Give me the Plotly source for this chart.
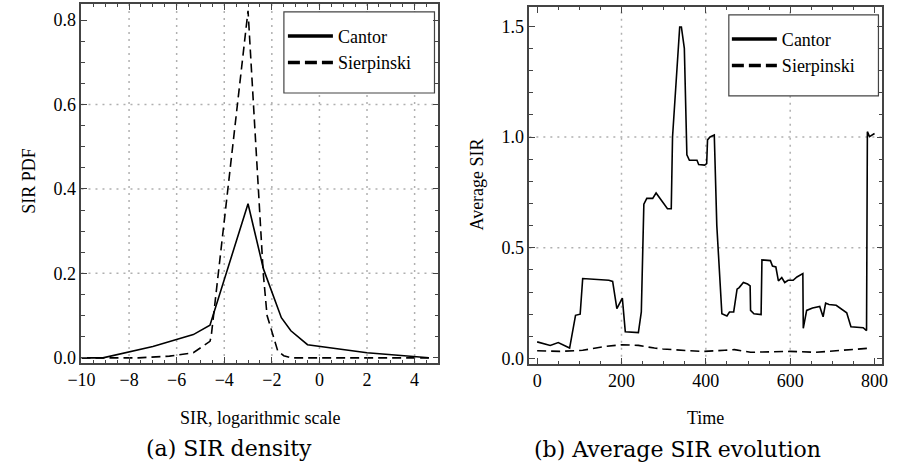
import plotly.graph_objects as go

# ---------------- data ----------------
# (a) SIR density
cantor_pdf_x = [-10, -9.1, -7.0, -5.3, -4.6, -3.0, -2.35, -1.6, -1.2, -0.5, 2.0, 4.0, 4.6]
cantor_pdf_y = [0.0, 0.0, 0.027, 0.055, 0.077, 0.365, 0.21, 0.095, 0.064, 0.031, 0.012, 0.004, 0.0]
sierp_pdf_x = [-10, -7.6, -6.3, -5.3, -4.6, -4.55, -3.0, -2.36, -2.2, -1.75, -1.5, -1.2, 4.6]
sierp_pdf_y = [0.0, 0.0, 0.004, 0.012, 0.039, 0.05, 0.822, 0.2, 0.1, 0.016, 0.005, 0.0, 0.0]

# (b) Average SIR evolution
cantor_t = [0, 19, 31, 50, 77, 91, 102, 108, 143, 170, 179, 189, 202, 209, 240, 247, 253,
            260, 274, 282, 309, 318, 321, 338, 342, 349, 355, 361, 379, 383, 397, 402, 404,
            410, 420, 426, 438, 450, 456, 466, 474, 479, 489, 499, 505, 506, 514, 526, 531,
            533, 553, 558, 566, 572, 580, 587, 595, 607, 616, 630, 631, 639, 653, 670, 678,
            684, 692, 709, 719, 734, 744, 758, 773, 781, 783, 788, 800]
cantor_avg = [0.075, 0.066, 0.059, 0.072, 0.047, 0.195, 0.2, 0.361, 0.358, 0.353, 0.348, 0.225,
              0.273, 0.121, 0.117, 0.21, 0.697, 0.723, 0.723, 0.747, 0.676, 0.676, 1.0, 1.497,
              1.497, 1.40, 0.92, 0.895, 0.895, 0.876, 0.873, 0.88, 0.987, 1.0, 1.009, 0.6, 0.202,
              0.192, 0.21, 0.21, 0.313, 0.32, 0.343, 0.336, 0.328, 0.217, 0.202, 0.198, 0.198,
              0.445, 0.442, 0.417, 0.413, 0.35, 0.365, 0.343, 0.353, 0.353, 0.368, 0.383, 0.136,
              0.217, 0.228, 0.235, 0.188, 0.25, 0.244, 0.24, 0.225, 0.206, 0.143, 0.14, 0.139,
              0.126, 1.024, 1.002, 1.016]
sierp_t = [0, 54, 108, 162, 201, 240, 278, 298, 352, 394, 445, 468, 506, 560, 599, 661, 723, 769, 792]
sierp_avg = [0.035, 0.032, 0.037, 0.055, 0.062, 0.059, 0.047, 0.043, 0.036, 0.032, 0.037, 0.04,
             0.028, 0.031, 0.032, 0.028, 0.037, 0.047, 0.047]

series_names = ["Cantor", "Sierpinski"]

# grid positions (Mathematica-like dotted grid)
grid_a_x = [-8, -6, -4, -2, 0, 2, 4]
grid_a_y = [0.2, 0.4, 0.6]
grid_b_x = [200, 400, 600]
grid_b_y = [0.5, 1.0]

W, H = 904, 471
SERIF = "Liberation Serif, Times New Roman, Times, serif"
TICKF = dict(family=SERIF, size=18, color="black")
CAPF = dict(family="DejaVu Serif, serif", size=22, color="black")

fig = go.Figure()

LW = 1.6
DASH = "9px,5px"
fig.add_trace(go.Scatter(x=cantor_pdf_x, y=cantor_pdf_y, mode="lines", showlegend=False,
                         line=dict(color="black", width=LW), xaxis="x", yaxis="y"))
fig.add_trace(go.Scatter(x=sierp_pdf_x, y=sierp_pdf_y, mode="lines", showlegend=False,
                         line=dict(color="black", width=LW, dash=DASH), xaxis="x", yaxis="y"))
fig.add_trace(go.Scatter(x=cantor_t, y=cantor_avg, mode="lines", showlegend=False,
                         line=dict(color="black", width=LW), xaxis="x2", yaxis="y2"))
fig.add_trace(go.Scatter(x=sierp_t, y=sierp_avg, mode="lines", showlegend=False,
                         line=dict(color="black", width=LW, dash=DASH), xaxis="x2", yaxis="y2"))

# legend-only entries (thicker sample lines as in the reference)
for lg, xa, ya in [("legend", "x", "y"), ("legend2", "x2", "y2")]:
    fig.add_trace(go.Scatter(x=[None], y=[None], mode="lines", name=series_names[0], legend=lg,
                             legendgroup=lg + "c",
                             line=dict(color="black", width=3.5), xaxis=xa, yaxis=ya))
    fig.add_trace(go.Scatter(x=[None], y=[None], mode="lines", name=series_names[1], legend=lg,
                             legendgroup=lg + "s",
                             line=dict(color="black", width=3.5, dash="12px,5px"), xaxis=xa, yaxis=ya))

def ax(domain, rng, dtick, minor_dtick, anchor, tick0=None, fmt=None):
    d = dict(domain=domain, range=rng, dtick=dtick, anchor=anchor, showgrid=False, zeroline=False,
             ticks="inside", ticklen=6, tickwidth=1, tickcolor="#444",
             showline=True, linecolor="#444", linewidth=1.5, mirror="allticks",
             tickfont=TICKF,
             minor=dict(dtick=minor_dtick, ticks="inside", ticklen=3.5, tickcolor="#444", tickwidth=1))
    if tick0 is not None:
        d["tick0"] = tick0
    if fmt:
        d["tickformat"] = fmt
    return d

fig.update_layout(
    width=W, height=H, margin=dict(l=0, r=0, t=0, b=0),
    paper_bgcolor="white", plot_bgcolor="white",
    xaxis=ax([69 / W, 434 / W], [-10, 5], 2, 0.5, "y", tick0=-10),
    yaxis=ax([1 - 367 / H, 1 - 4 / H], [-0.0125, 0.838], 0.2, 0.05, "x", tick0=0, fmt=".1f"),
    xaxis2=ax([527 / W, 888 / W], [-18.5, 818.5], 200, 50, "y2", tick0=0),
    yaxis2=ax([1 - 367.7 / H, 1 - 7.3 / H], [-0.024, 1.586], 0.5, 0.1, "x2", tick0=0, fmt=".1f"),
    legend=dict(x=275 / W, y=1 - 18 / H, xanchor="left", yanchor="top", bgcolor="rgba(0,0,0,0)",
                borderwidth=0, font=TICKF, itemwidth=45, tracegroupgap=0),
    legend2=dict(x=729 / W, y=1 - 21 / H, xanchor="left", yanchor="top", bgcolor="rgba(0,0,0,0)",
                 borderwidth=0, font=TICKF, itemwidth=45, tracegroupgap=0),
)

shapes = []
GRID = dict(color="#b0b0b0", width=1.5, dash="2px,5px")
for v in grid_a_x:
    shapes.append(dict(type="line", xref="x", yref="y domain", x0=v, x1=v, y0=0, y1=1, line=GRID, layer="below"))
for v in grid_a_y:
    shapes.append(dict(type="line", xref="x domain", yref="y", x0=0, x1=1, y0=v, y1=v, line=GRID, layer="below"))
for v in grid_b_x:
    shapes.append(dict(type="line", xref="x2", yref="y2 domain", x0=v, x1=v, y0=0, y1=1, line=GRID, layer="below"))
for v in grid_b_y:
    shapes.append(dict(type="line", xref="x2 domain", yref="y2", x0=0, x1=1, y0=v, y1=v, line=GRID, layer="below"))
# legend frames
shapes.append(dict(type="rect", xref="paper", yref="paper", x0=276 / W, x1=430 / W, y0=1 - 94 / H, y1=1 - 12 / H,
                   line=dict(color="#444", width=1.2), fillcolor="white", layer="below"))
shapes.append(dict(type="rect", xref="paper", yref="paper", x0=731 / W, x1=884 / W, y0=1 - 97 / H, y1=1 - 15 / H,
                   line=dict(color="#444", width=1.2), fillcolor="white", layer="below"))
fig.update_layout(shapes=shapes)

def ann(text, px, py, font, angle=0):
    return dict(text=text, x=px / W, y=1 - py / H, xref="paper", yref="paper", showarrow=False,
                xanchor="center", yanchor="middle", font=font, textangle=angle)

fig.update_layout(annotations=[
    ann("SIR PDF", 15, 183, TICKF, -90),
    ann("SIR, logarithmic scale", 252, 422, TICKF),
    ann("(a) SIR density", 220, 453, CAPF),
    ann("Average SIR", 474, 187, TICKF, -90),
    ann("Time", 707, 422, TICKF),
    ann("(b) Average SIR evolution", 678, 454, CAPF),
])

fig.write_html("out.html", config={"displayModeBar": False},
               post_script="document.body.style.margin='0px';")
